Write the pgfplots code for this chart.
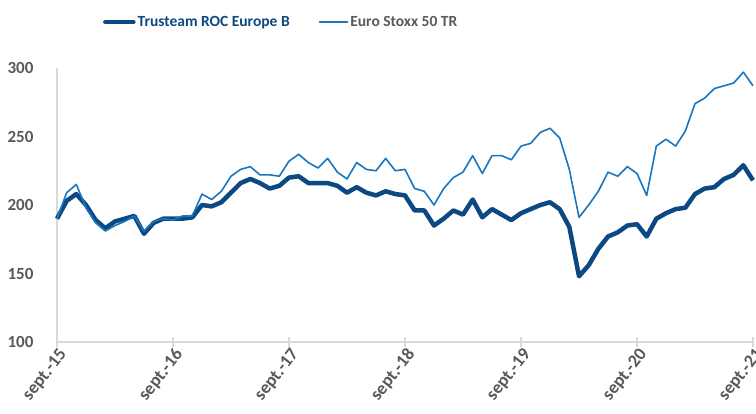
\documentclass[border=0pt]{standalone}
\usepackage{pgfplots}
\pgfplotsset{compat=1.18}
\usepackage{pgfplotstable}
\usepackage{fontspec}
\setmainfont{Carlito}
\definecolor{trust}{RGB}{12,72,130}
\definecolor{stoxx}{RGB}{25,118,192}
\definecolor{axgray}{RGB}{217,217,217}
\definecolor{txtgray}{RGB}{89,89,89}
\pgfplotstableread{
m trust stoxx
0 190 190
1 203 209
2 208 215
3 200 198
4 189 187
5 183 181
6 188 185
7 190 188
8 192 192
9 179 181
10 187 188
11 190 190
12 190 189
13 190 192
14 191 192
15 200 208
16 199 204
17 202 210
18 209 221
19 216 226
20 219 228
21 216 222
22 212 222
23 214 221
24 220 232
25 221 237
26 216 231
27 216 227
28 216 234
29 214 224
30 209 219
31 213 231
32 209 226
33 207 225
34 210 234
35 208 225
36 207 226
37 196 212
38 196 210
39 185 200
40 190 212
41 196 220
42 193 224
43 204 236
44 191 223
45 197 236
46 193 236
47 189 233
48 194 243
49 197 245
50 200 253
51 202 256
52 197 249
53 184 226
54 148 191
55 156 200
56 168 210
57 177 224
58 180 221
59 185 228
60 186 223
61 177 207
62 190 243
63 194 248
64 197 243
65 198 254
66 208 274
67 212 278
68 213 285
69 219 287
70 222 289
71 229 297
72 218 287
}\data
\begin{document}
\begin{tikzpicture}
\begin{axis}[name=ax,
  scale only axis, width=696pt, height=274pt,
  xmin=0, xmax=72, ymin=100, ymax=300,
  axis lines*=left,
  axis line style={draw=axgray, line width=1.3pt},
  xtick={0,12,...,72},
  xticklabels={sept.-15,sept.-16,sept.-17,sept.-18,sept.-19,sept.-20,sept.-21},
  ytick={100,150,...,300},
  /pgf/number format/assume math mode=true,
  tick label style={text=txtgray},
  yticklabel style={font=\fontsize{17}{19}\selectfont\bfseries, xshift=-15pt},
  xticklabel style={font=\fontsize{18}{20}\selectfont\bfseries, rotate=52, anchor=east, xshift=4pt, yshift=-8pt},
  x tick style={draw=axgray, line width=1.3pt},
  y tick style={draw=none},
  major tick length=10pt, tick align=center,
  clip=false,
  legend columns=2,
  legend style={at={(0.066,1.168)}, anchor=west, draw=none, fill=none,
    font=\fontsize{15.5}{18}\selectfont\bfseries,
    /tikz/every even column/.append style={column sep=27pt},
    inner sep=0pt},
  legend image code/.code={\draw[#1, line cap=round] (0pt,0pt) -- (28pt,0pt);},
]
\addplot[trust, line width=4.5pt, line join=round, no markers] table[x=m, y=trust] {\data};
\addlegendentry{\textcolor{trust}{Trusteam ROC Europe B}}
\addplot[stoxx, line width=1.6pt, line join=round, no markers] table[x=m, y=stoxx] {\data};
\addlegendentry{\textcolor{txtgray}{Euro Stoxx 50 TR}}
\end{axis}
\pgfresetboundingbox
\path[use as bounding box] ([xshift=-57pt,yshift=-72pt]ax.south west) rectangle ([xshift=3pt,yshift=68pt]ax.north east);
\end{tikzpicture}
\end{document}
